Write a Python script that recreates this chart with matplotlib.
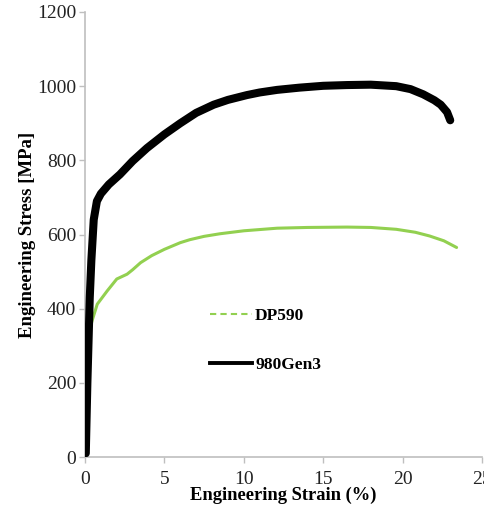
import matplotlib
matplotlib.use("Agg")
import matplotlib.pyplot as plt
from matplotlib.lines import Line2D

# Data
gen3_strain = [0.05, 0.15, 0.3, 0.4, 0.55, 0.75, 1.0, 1.5, 2.2, 3.0, 3.9, 5.0, 6.0, 7.0,
               8.1, 9.0, 10.2, 11.0, 12.1, 13.5, 15.0, 16.5, 18.0, 19.6, 20.5, 21.3,
               22.0, 22.4, 22.8, 23.0]
gen3_stress = [10, 200, 430, 530, 640, 690, 710, 735, 762, 798, 833, 870, 900, 928,
               950, 963, 976, 983, 990, 996, 1001, 1003, 1004, 1000, 992, 978,
               962, 950, 930, 908]

dp590_strain = [0, 0.2, 0.3, 0.45, 0.77, 1.4, 2.0, 2.65, 3.0, 3.5, 4.2, 5.0, 6.0, 6.6,
                7.5, 8.5, 10.0, 12.1, 14.0, 16.5, 18.0, 19.6, 20.8, 21.7, 22.6, 23.4]
dp590_stress = [0, 250, 345, 368, 412, 448, 480, 493, 505, 524, 543, 560, 578, 586,
                595, 602, 610, 617, 619, 620, 619, 614, 606, 596, 583, 565]

x_ticks = [0, 5, 10, 15, 20, 25]
y_ticks = [0, 200, 400, 600, 800, 1000, 1200]
series_labels = ["DP590", "980Gen3"]

plt.rcParams['font.family'] = ['Liberation Serif', 'DejaVu Serif']

fig = plt.figure(figsize=(4.84, 5.08), dpi=100)
ax = fig.add_axes([85/484, (508-457)/508, (482-85)/484, (457-12)/508])

ax.plot(dp590_strain, dp590_stress, color='#92d050', lw=2.2, solid_capstyle='round', zorder=2)
ax.plot(gen3_strain, gen3_stress, color='black', lw=5.8, solid_capstyle='round',
        solid_joinstyle='round', zorder=3)

ax.set_xlim(0, 25)
ax.set_ylim(0, 1200)
ax.set_xticks(x_ticks)
ax.set_yticks(y_ticks)
ax.tick_params(axis='both', labelsize=14, length=4.3, width=1, color='#bfbfbf',
               labelcolor='#222222')
ax.tick_params(axis='x', pad=6)
ax.tick_params(axis='y', pad=2)

for side in ['top', 'right']:
    ax.spines[side].set_visible(False)
for side in ['left', 'bottom']:
    ax.spines[side].set_color('#bfbfbf')
    ax.spines[side].set_linewidth(1.2)

ax.set_xlabel('Engineering Strain (%)', fontsize=13.3, fontweight='bold', labelpad=-1)
ax.set_ylabel('Engineering Stress [MPa]', fontsize=13.5, fontweight='bold', labelpad=1)

handles = [Line2D([], [], color='#92d050', lw=1.5, ls=(0, (3, 2))),
           Line2D([], [], color='black', lw=2.8)]
leg = ax.legend(handles, series_labels, loc='upper left', bbox_to_anchor=(0.315, 0.336),
                frameon=False, borderpad=0, borderaxespad=0, handlelength=2.4,
                handletextpad=0.2, labelspacing=1.9,
                prop={'family': 'Liberation Serif', 'weight': 'bold', 'size': 12.5})

fig.savefig('out.png', dpi=100)
